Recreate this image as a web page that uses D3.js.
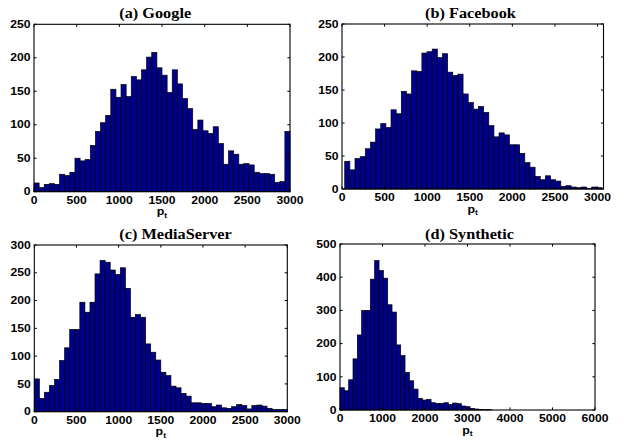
<!DOCTYPE html>
<html>
<head>
<meta charset="utf-8">
<script src="https://cdn.jsdelivr.net/npm/d3@7/dist/d3.min.js"></script>
<style>
    body { margin: 0; background: #fff; }
</style>
</head>
<body>
<svg id="fig" width="629" height="445"></svg>
<script>
// histogram counts
var googleCounts = [13, 6, 11, 12, 11, 26, 24, 29, 50, 46,
    48, 69, 90, 103, 114, 153, 141, 160, 142, 172,
    167, 182, 201, 208, 185, 174, 148, 182, 161, 139,
    124, 93, 107, 91, 87, 97, 72, 41, 61, 56,
    41, 42, 40, 29, 27, 27, 26, 14, 15, 90];
var facebookCounts = [42, 29, 46, 49, 61, 71, 91, 99, 93, 120,
    114, 148, 144, 179, 178, 206, 208, 212, 199, 205,
    177, 172, 174, 144, 131, 121, 125, 116, 96, 79,
    85, 82, 67, 67, 54, 40, 33, 19, 14, 20,
    14, 12, 4, 5, 3, 2, 3, 1, 3, 2];
var mediaCounts = [59, 24, 35, 47, 58, 92, 115, 148, 148, 197,
    179, 197, 248, 272, 269, 255, 247, 259, 222, 170,
    175, 170, 122, 107, 93, 71, 65, 46, 43, 33,
    28, 16, 16, 15, 15, 9, 12, 7, 6, 9,
    13, 11, 5, 11, 12, 10, 6, 4, 4, 4];
var syntheticCounts = [67, 58, 91, 154, 226, 300, 300, 394, 450, 420,
    397, 317, 295, 196, 164, 113, 88, 63, 35, 30,
    32, 22, 20, 20, 22, 17, 21, 19, 12, 10,
    5, 3, 2, 1, 1];

// bin start / bin width (data units)
var googleBins = [0, 60];
var facebookBins = [32, 60.4];
var mediaBins = [0, 60];
var syntheticBins = [0, 102];

var titles = ["(a) Google", "(b) Facebook", "(c) MediaServer", "(d) Synthetic"];
var xTicks3000 = [0, 500, 1000, 1500, 2000, 2500, 3000];
var xTicks6000 = [0, 1000, 2000, 3000, 4000, 5000, 6000];
var yTicks250 = [0, 50, 100, 150, 200, 250];
var yTicks300 = [0, 50, 100, 150, 200, 250, 300];
var yTicks500 = [0, 100, 200, 300, 400, 500];

var svg = d3.select("#fig");
var sx = 1.18; // the figure is stretched sideways a bit
var tickFont = "Arial, 'Liberation Sans', sans-serif";
var titleFont = "'Times New Roman', 'Liberation Serif', serif";

var panels = [
    {counts: googleCounts, bins: googleBins, xmax: 3000, ymax: 250, xt: xTicks3000, yt: yTicks250,
        left: 34, right: 290, top: 24.3, bottom: 191.7, tx: 119.3, ty: 18.3},
    {counts: facebookCounts, bins: facebookBins, xmax: 3070, ymax: 250, xt: xTicks3000, yt: yTicks250,
        left: 342, right: 603.5, top: 24, bottom: 189, tx: 425, ty: 18.3},
    {counts: mediaCounts, bins: mediaBins, xmax: 3000, ymax: 300, xt: xTicks3000, yt: yTicks300,
        left: 34.3, right: 287.3, top: 245, bottom: 411.7, tx: 119.3, ty: 239},
    {counts: syntheticCounts, bins: syntheticBins, xmax: 6000, ymax: 500, xt: xTicks6000, yt: yTicks500,
        left: 340, right: 595, top: 244, bottom: 410, tx: 425, ty: 239}
];

function stretchedText(g, x, y, str, anchor, size, weight, family) {
    return g.append("text")
        .attr("transform", "translate(" + x + "," + y + ") scale(" + sx + ",1)")
        .attr("text-anchor", anchor)
        .style("font-family", family)
        .style("font-size", size + "px")
        .style("font-weight", weight)
        .style("fill", "#000")
        .text(str);
}

panels.forEach(function (p, k) {
    var g = svg.append("g");
    var x = d3.scaleLinear().domain([0, p.xmax]).range([p.left, p.right]);
    var y = d3.scaleLinear().domain([0, p.ymax]).range([p.bottom, p.top]);
    var bw = x(p.bins[1]) - x(0);

    g.selectAll("rect.bar")
        .data(p.counts)
        .enter().append("rect")
        .attr("class", "bar")
        .attr("x", function (d, i) { return x(p.bins[0] + i * p.bins[1]); })
        .attr("y", function (d) { return y(d); })
        .attr("width", bw)
        .attr("height", function (d) { return p.bottom - y(d); })
        .style("fill", "#00008f")
        .style("stroke", "#000")
        .style("stroke-width", 0.7);

    // box
    g.append("rect")
        .attr("x", p.left).attr("y", p.top)
        .attr("width", p.right - p.left).attr("height", p.bottom - p.top)
        .style("fill", "none").style("stroke", "#000").style("stroke-width", 1.1);

    // inward ticks, mirrored on top / right
    var tl = 2.6;
    p.xt.forEach(function (t) {
        g.append("line").attr("x1", x(t)).attr("x2", x(t)).attr("y1", p.bottom).attr("y2", p.bottom - tl)
            .style("stroke", "#000").style("stroke-width", 1);
        g.append("line").attr("x1", x(t)).attr("x2", x(t)).attr("y1", p.top).attr("y2", p.top + tl)
            .style("stroke", "#000").style("stroke-width", 1);
        stretchedText(g, x(t), p.bottom + 12.3, t, "middle", 10.3, "bold", tickFont);
    });
    p.yt.forEach(function (t) {
        g.append("line").attr("x1", p.left).attr("x2", p.left + tl).attr("y1", y(t)).attr("y2", y(t))
            .style("stroke", "#000").style("stroke-width", 1);
        g.append("line").attr("x1", p.right).attr("x2", p.right - tl).attr("y1", y(t)).attr("y2", y(t))
            .style("stroke", "#000").style("stroke-width", 1);
        stretchedText(g, p.left - 3.5, y(t) + 3.7, t, "end", 10.3, "bold", tickFont);
    });

    // x label p_t
    var lab = stretchedText(g, (p.left + p.right) / 2, p.bottom + 23.5, "", "middle", 10.5, "bold", tickFont);
    lab.append("tspan").text("p");
    lab.append("tspan").attr("dy", 2.5).style("font-size", "7.2px").text("t");

    // title
    stretchedText(g, p.tx, p.ty, titles[k], "start", 13.8, "bold", titleFont);
});
</script>
</body>
</html>
